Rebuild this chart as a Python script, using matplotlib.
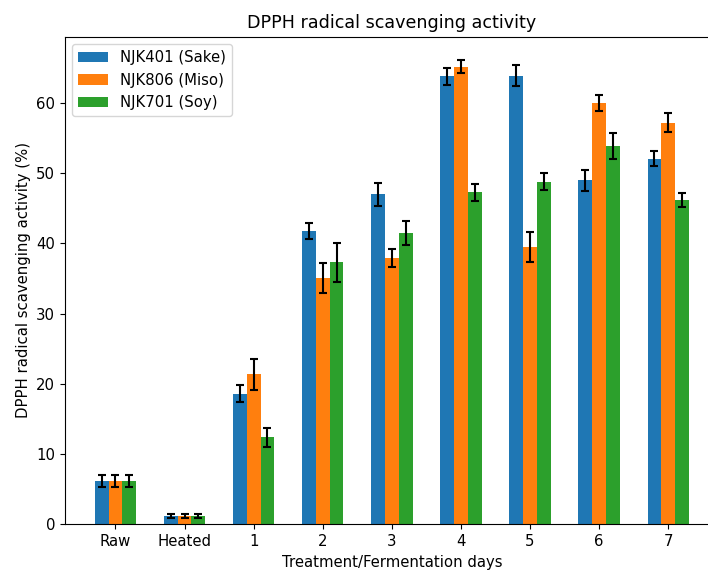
import matplotlib
matplotlib.use("Agg")
import matplotlib.pyplot as plt
import numpy as np

categories = ["Raw", "Heated", "1", "2", "3", "4", "5", "6", "7"]

sake_mean = [6.2, 1.2, 18.6, 41.8, 47.0, 63.8, 63.9, 49.0, 52.1]
sake_err = [0.85, 0.3, 1.25, 1.15, 1.6, 1.2, 1.5, 1.5, 1.05]

miso_mean = [6.2, 1.2, 21.4, 35.1, 37.9, 65.2, 39.5, 60.0, 57.2]
miso_err = [0.85, 0.3, 2.2, 2.1, 1.3, 0.95, 2.2, 1.15, 1.35]

soy_mean = [6.2, 1.2, 12.4, 37.3, 41.5, 47.3, 48.8, 53.9, 46.2]
soy_err = [0.85, 0.3, 1.35, 2.75, 1.65, 1.2, 1.2, 1.9, 0.95]

series = [
    ("NJK401 (Sake)", sake_mean, sake_err, "#1f77b4"),
    ("NJK806 (Miso)", miso_mean, miso_err, "#ff7f0e"),
    ("NJK701 (Soy)", soy_mean, soy_err, "#2ca02c"),
]

plt.rcParams["font.size"] = 10.7

fig = plt.figure(figsize=(7.08, 5.70), dpi=100)
ax = fig.add_axes([0.0918, 0.0802, 0.9233, 0.8554])

x = np.arange(len(categories))
width = 0.2
for i, (label, mean, err, color) in enumerate(series):
    ax.bar(x + (i - 1) * width, mean, width, yerr=err, label=label,
           color=color, capsize=3,
           error_kw=dict(ecolor="black", elinewidth=1.5, capthick=1.5))

ax.set_xticks(x)
ax.set_xticklabels(categories)
ax.set_xlabel("Treatment/Fermentation days")
ax.set_ylabel("DPPH radical scavenging activity (%)")
ax.set_title("DPPH radical scavenging activity", fontsize=12.6)
ax.legend(loc="upper left")

fig.savefig("out.png", dpi=100)
